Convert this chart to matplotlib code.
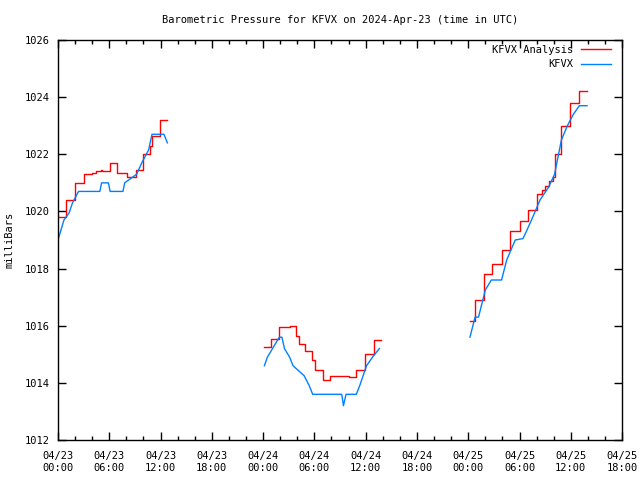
import datetime as dt
import matplotlib
matplotlib.use("Agg")
import matplotlib.pyplot as plt
import matplotlib.dates as mdates
from matplotlib.ticker import MultipleLocator

# hours since 2024-04-23 00:00 UTC, pressure in mb
# KFVX Analysis (red), three segments
ana_h1 = [0.0, 0.9, 2.0, 3.1, 4.0, 4.5, 5.0, 5.2, 6.1, 6.9, 8.1, 9.1, 10.0, 10.8, 11.0, 11.9, 12.8]
ana_p1 = [1019.8, 1020.4, 1021.0, 1021.3, 1021.35, 1021.4, 1021.45, 1021.4, 1021.7, 1021.35,
          1021.2, 1021.45, 1022.0, 1022.3, 1022.65, 1023.2, 1023.2]
ana_h2 = [24.1, 24.9, 25.9, 27.1, 27.9, 28.2, 28.9, 29.7, 30.1, 31.0, 31.8, 34.1, 34.9, 35.9, 37.0, 37.8]
ana_p2 = [1015.25, 1015.55, 1015.95, 1016.0, 1015.65, 1015.35, 1015.1, 1014.8, 1014.45, 1014.1,
          1014.25, 1014.2, 1014.45, 1015.0, 1015.5, 1015.5]
ana_h3 = [48.2, 48.8, 49.8, 50.8, 51.9, 52.9, 54.0, 55.0, 56.0, 56.6, 57.0, 57.5, 57.9, 58.1, 58.9, 59.9, 61.0, 61.9]
ana_p3 = [1016.15, 1016.9, 1017.8, 1018.15, 1018.65, 1019.3, 1019.65, 1020.05, 1020.6, 1020.75,
          1020.9, 1021.05, 1021.2, 1022.0, 1023.0, 1023.8, 1024.2, 1024.2]

# KFVX observations (blue)
obs_h1 = [0.0, 0.3, 0.7, 1.3, 1.7, 2.4, 4.9, 5.1, 5.9, 6.1, 7.6, 7.8, 9.2, 9.8, 10.6, 11.0, 12.4, 12.8]
obs_p1 = [1019.0, 1019.3, 1019.7, 1019.95, 1020.3, 1020.7, 1020.7, 1021.0, 1021.0, 1020.7,
          1020.7, 1021.0, 1021.3, 1021.7, 1022.15, 1022.7, 1022.7, 1022.4]
obs_h2 = [24.15, 24.5, 25.1, 25.9, 26.2, 26.5, 27.1, 27.5, 28.8, 29.4, 29.8, 33.2, 33.4, 33.7,
          34.9, 35.3, 36.1, 36.8, 37.6]
obs_p2 = [1014.6, 1014.9, 1015.2, 1015.6, 1015.6, 1015.2, 1014.9, 1014.6, 1014.25, 1013.9,
          1013.6, 1013.6, 1013.2, 1013.6, 1013.6, 1013.9, 1014.6, 1014.9, 1015.2]
obs_h3 = [48.2, 48.8, 49.2, 50.0, 50.7, 51.9, 52.5, 53.5, 54.4, 54.8, 55.4, 56.4, 57.4, 58.1,
          58.9, 59.6, 60.3, 61.0, 61.9]
obs_p3 = [1015.6, 1016.3, 1016.3, 1017.25, 1017.6, 1017.6, 1018.3, 1019.0, 1019.05, 1019.3,
          1019.7, 1020.4, 1020.85, 1021.3, 1022.5, 1023.0, 1023.4, 1023.7, 1023.7]

t0 = dt.datetime(2024, 4, 23, 0, 0)
def tt(hours):
    return [t0 + dt.timedelta(hours=h) for h in hours]

plt.rcParams['font.family'] = 'DejaVu Sans Mono'
plt.rcParams['font.size'] = 7.5

fig = plt.figure(figsize=(6.4, 4.8), dpi=100)
ax = fig.add_axes([0.0906, 0.0833, 0.8814, 0.8334])

red = '#ff0000'
blue = '#0080ff'
for i, (h, p) in enumerate([(ana_h1, ana_p1), (ana_h2, ana_p2), (ana_h3, ana_p3)]):
    ax.plot(tt(h), p, color=red, lw=1.0, drawstyle='steps-post',
            label='KFVX Analysis' if i == 0 else None)
for i, (h, p) in enumerate([(obs_h1, obs_p1), (obs_h2, obs_p2), (obs_h3, obs_p3)]):
    ax.plot(tt(h), p, color=blue, lw=1.0, label='KFVX' if i == 0 else None)

ax.set_xlim(t0, t0 + dt.timedelta(hours=66))
ax.set_ylim(1012, 1026)
ax.yaxis.set_major_locator(MultipleLocator(2))
ax.xaxis.set_major_locator(mdates.HourLocator(byhour=[0, 6, 12, 18]))
ax.xaxis.set_minor_locator(mdates.HourLocator(interval=2))
ax.xaxis.set_major_formatter(mdates.DateFormatter('%m/%d\n%H:%M'))
ax.tick_params(which='both', direction='in', top=True, right=True, width=1, color='black')
ax.tick_params(which='major', length=6)
ax.tick_params(axis='x', which='major', pad=8)
ax.tick_params(axis='y', which='major', pad=6)
ax.tick_params(which='minor', length=3)
for s in ax.spines.values():
    s.set_linewidth(1)

ax.set_title('Barometric Pressure for KFVX on 2024-Apr-23 (time in UTC)', fontsize=7.5, pad=12)
ax.set_ylabel('milliBars', labelpad=7)

ax.legend(loc='upper right', bbox_to_anchor=(0.988, 1.0), frameon=False, markerfirst=False,
          handlelength=2.8, borderaxespad=0.05, labelspacing=0.45, handletextpad=0.8,
          fontsize=7.5)

fig.savefig('out.png', dpi=100)
